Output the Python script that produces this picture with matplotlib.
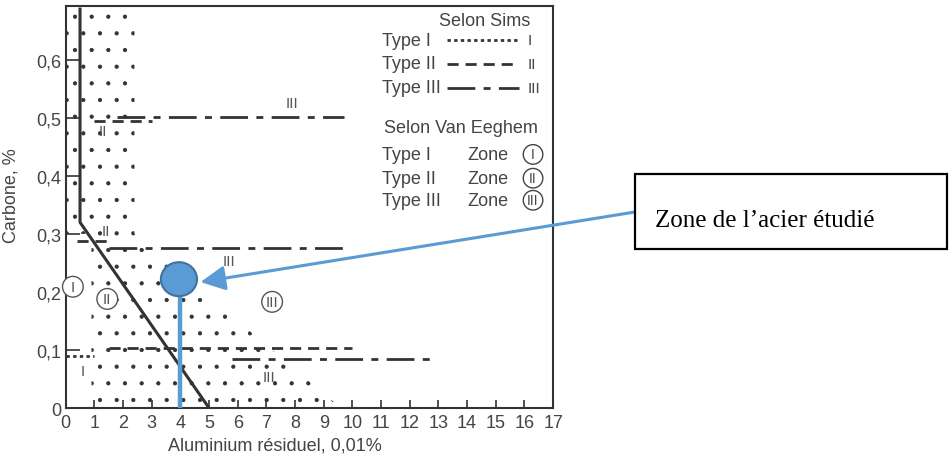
import numpy as np
import matplotlib
matplotlib.use("Agg")
import matplotlib.pyplot as plt
from matplotlib.patches import Polygon, Ellipse, Rectangle

plt.rcParams['font.family'] = ['Liberation Sans', 'DejaVu Sans']
plt.rcParams['hatch.linewidth'] = 0.6

# diagram data
x_ticks = list(range(0, 18))
y_ticks = [0, 0.1, 0.2, 0.3, 0.4, 0.5, 0.6]
y_tick_labels = ['0', '0,1', '0,2', '0,3', '0,4', '0,5', '0,6']

# solid boundary (Van Eeghem)
boundary_x = [0.5, 0.5, 5.0]
boundary_y = [0.69, 0.32, 0.0]

# dotted zone II
zone_x = [0, 2.4, 2.4, 9.6, 0.9, 0.9, 0]
zone_y = [0.69, 0.69, 0.30, 0.0, 0.0, 0.30, 0.30]

# Sims limits: (type, x start, x end, carbon level)
sims_lines = [
    ('III', 1.8, 9.7, 0.501),
    ('II', 1.0, 3.0, 0.494),
    ('II', 0.4, 1.6, 0.288),
    ('III', 1.5, 9.9, 0.276),
    ('II', 1.5, 10.0, 0.104),
    ('III', 5.8, 12.7, 0.084),
    ('I', 0.0, 1.0, 0.089),
]
# small roman labels next to the lines
line_labels = [('III', 7.9, 0.525), ('II', 1.3, 0.478), ('II', 1.4, 0.305),
               ('III', 5.7, 0.253), ('III', 7.1, 0.053), ('I', 0.6, 0.064)]
# circled zone labels
zone_labels = [('I', 0.25, 0.209), ('II', 1.45, 0.188), ('III', 7.2, 0.183)]

# studied steel
steel_al = 4.0
steel_c = 0.222

ink = '#333333'
blue = '#5b9bd5'
styles = {'I': dict(ls=(0, (1.2, 1.2)), lw=2.0),
          'II': dict(ls=(0, (4, 2.5)), lw=2.0),
          'III': dict(ls=(0, (10, 3, 2.5, 3)), lw=2.0)}

fig = plt.figure(figsize=(9.52, 4.56), dpi=100)
ax = fig.add_axes([0.069, 0.103, 0.512, 0.882])
ax.set_xlim(0, 17)
ax.set_ylim(0, 0.693)

ax.add_patch(Polygon(np.column_stack([zone_x, zone_y]), closed=True,
                     facecolor='none', edgecolor=ink, lw=0, hatch='.'))
ax.plot(boundary_x, boundary_y, color=ink, lw=2.2, solid_capstyle='butt')

for kind, x0, x1, c in sims_lines:
    ax.plot([x0, x1], [c, c], color=ink, **styles[kind])

for txt, x, y in line_labels:
    ax.text(x, y, txt, ha='center', va='center', fontsize=11, color='#555555')
for txt, x, y in zone_labels:
    ax.text(x, y, txt, ha='center', va='center', fontsize=11, color='#555555',
            bbox=dict(boxstyle='circle,pad=0.22', fc='white', ec='#555555', lw=1))

# legend drawn as text in the corner
lc = '#444444'
ax.text(16.2, 0.667, 'Selon Sims', ha='right', va='center', fontsize=13, color=lc)
for i, kind in enumerate(['I', 'II', 'III']):
    yy = [0.634, 0.593, 0.552][i]
    ax.text(11.03, yy, 'Type ' + kind, ha='left', va='center', fontsize=13, color=lc)
    ax.plot([13.3, 15.8], [yy, yy], color=ink, **styles[kind])
    ax.text(16.1, yy, kind, ha='left', va='center', fontsize=11, color=lc)
ax.text(13.8, 0.484, 'Selon Van Eeghem', ha='center', va='center', fontsize=13, color=lc)
for i, kind in enumerate(['I', 'II', 'III']):
    yy = [0.437, 0.396, 0.358][i]
    ax.text(11.03, yy, 'Type ' + kind, ha='left', va='center', fontsize=13, color=lc)
    ax.text(14.0, yy, 'Zone', ha='left', va='center', fontsize=13, color=lc)
    ax.text(16.3, yy, kind, ha='center', va='center', fontsize=10, color=lc,
            bbox=dict(boxstyle='circle,pad=0.2', fc='white', ec=lc, lw=1))

# axes styling
for s in ax.spines.values():
    s.set_linewidth(1.5)
    s.set_color(ink)
ax.set_xticks(x_ticks)
ax.set_xticklabels([str(v) for v in x_ticks])
ax.set_yticks(y_ticks)
ax.set_yticklabels(y_tick_labels)
ax.tick_params(axis='x', direction='in', length=6, width=1.2, color=ink,
               labelsize=13, labelcolor='#444444', pad=4)
ax.tick_params(axis='y', direction='in', length=10, width=1.2, color=ink,
               labelsize=13, labelcolor='#444444', pad=3)
ax.set_xlabel('Aluminium résiduel, 0,01%', fontsize=13, color='#444444')
ax.xaxis.set_label_coords(0.43, -0.07)
ax.set_ylabel('Carbone, %', fontsize=13, color='#444444')
ax.yaxis.set_label_coords(-0.095, 0.53)

# studied steel marker
ax.plot([steel_al, steel_al], [0, steel_c - 0.03], color=blue, lw=3.2, zorder=5)
ax.add_patch(Ellipse((steel_al - 0.05, steel_c), 1.26, 0.0586, facecolor=blue,
                     edgecolor='#41719c', lw=1.5, zorder=6))
ax.annotate('', xy=(4.7, 0.217), xycoords='data',
            xytext=(635 / 952, 1 - 213 / 456), textcoords='figure fraction',
            arrowprops=dict(arrowstyle='-|>,head_length=0.6,head_width=0.3',
                            mutation_scale=25, color=blue, lw=2.2,
                            shrinkA=0, shrinkB=0),
            annotation_clip=False, zorder=7)

fig.patches.append(Rectangle((635 / 952, 1 - 250 / 456), 312 / 952, 75 / 456,
                             transform=fig.transFigure, facecolor='white',
                             edgecolor='black', lw=1.6))
fig.text(655 / 952, 1 - 221 / 456, 'Zone de l\u2019acier étudié',
         ha='left', va='center', fontsize=18, family='Liberation Serif')

fig.savefig('out.png', dpi=100)
